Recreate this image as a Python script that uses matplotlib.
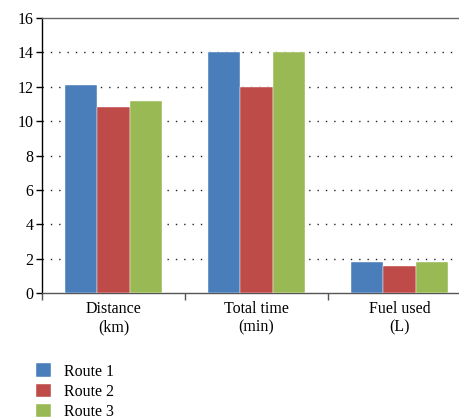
import numpy as np
import matplotlib.pyplot as plt

plt.rcParams['font.family'] = ['Liberation Serif', 'DejaVu Serif']

categories = ['Distance\n(km)', 'Total time\n(min)', 'Fuel used\n(L)']
series_names = ['Route 1', 'Route 2', 'Route 3']
route1 = [12.1, 14.0, 1.8]
route2 = [10.8, 12.0, 1.6]
route3 = [11.2, 14.0, 1.8]
colors = ['#4A7EBB', '#BE4B48', '#98B954']

fig = plt.figure(figsize=(4.59, 4.19), dpi=100)
ax = fig.add_axes([42/459, 1 - 293/419, 429/459, 275/419])

x = np.arange(len(categories))
w = 0.224
for i, (vals, name, c) in enumerate(zip([route1, route2, route3], series_names, colors)):
    ax.bar(x + (i - 1) * w, vals, width=w, color=c, label=name, zorder=3,
           edgecolor='white', linewidth=0.3)

ax.set_xlim(-0.5, 2.5)
ax.set_ylim(0, 16)
ax.set_yticks(np.arange(0, 17, 2))
ax.set_xticks(x)
ax.set_xticklabels(categories, fontsize=11.5, linespacing=1.2)
ax.set_xticks([-0.5, 0.5, 1.5], minor=True)
ax.tick_params(axis='x', which='major', length=0, pad=6)
ax.tick_params(axis='x', which='minor', length=5, width=1, direction='out', color='#555555')
ax.tick_params(axis='y', labelsize=11.5, length=4, width=1, direction='out', pad=2)

for y in range(2, 16, 2):
    ax.axhline(y, color='#222222', linewidth=1, linestyle=(0, (1, 5)), zorder=1)

ax.spines['left'].set_color('black')
ax.spines['bottom'].set_color('#555555')
ax.spines['top'].set_color('#666666')
ax.spines['right'].set_visible(False)
for s in ['left', 'bottom', 'top']:
    ax.spines[s].set_linewidth(1)

fig.legend(loc='upper left', bbox_to_anchor=(30/459, 1 - 357/419), frameon=False,
           fontsize=11.5, handlelength=0.9, handleheight=0.9, handletextpad=0.8,
           labelspacing=0.25, borderaxespad=0)

fig.savefig('out.png', dpi=100)
